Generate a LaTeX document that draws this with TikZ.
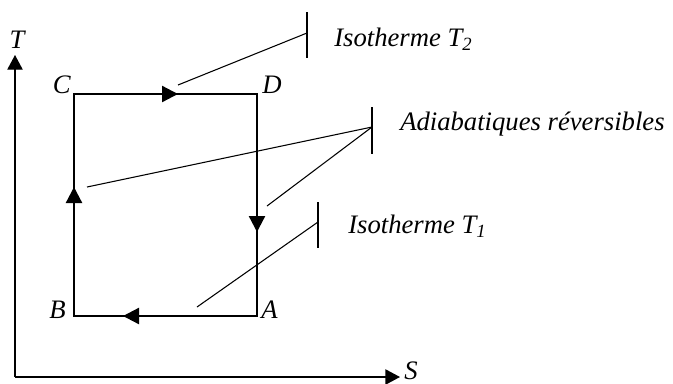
\documentclass[tikz,border=0pt]{standalone}
\usepackage{fontspec}
\setmainfont{Liberation Serif}
\usetikzlibrary{calc,arrows.meta}
\tikzset{
    axis line/.style={line width=1pt, -{Triangle[length=11pt,width=11.5pt]}},
    cycle line/.style={line width=0.9pt},
    flow arrow/.style={line width=1.7pt, -{Triangle[length=12pt,width=12pt]}},
    leader line/.style={line width=0.8pt},
    tick line/.style={line width=0.9pt},
    label text/.style={font=\fontsize{20}{24}\selectfont\itshape, inner sep=0pt}
}
\begin{document}
\begin{tikzpicture}[x=0.75pt,y=-0.75pt]
    \useasboundingbox (0,0) rectangle (673,383);
    % axes
    \coordinate(O)at(15,377);
    \coordinate(Ttip)at(15,55);
    \coordinate(Stip)at(400,377);
    \draw[axis line](O)--(Ttip);
    \draw[axis line](O)--(Stip);
    \node[label text,anchor=base](Tlab)at(17,48){T};
    \node[label text,anchor=base west,text depth=0pt](Slab)at(404,379){S};
    % cycle
    \coordinate(A)at(257,316);
    \coordinate(B)at(74,316);
    \coordinate(C)at(74,94);
    \coordinate(D)at(257,94);
    \draw[cycle line](A)--(B)--(C)--(D)--cycle;
    \draw[flow arrow]($(C)+(61,0)$)--($(C)+(104,0)$);
    \draw[flow arrow]($(D)+(0,93)$)--($(D)+(0,138)$);
    \draw[flow arrow]($(A)+(-71,0)$)--($(A)+(-134,0)$);
    \draw[flow arrow]($(B)+(0,-64)$)--($(B)+(0,-129)$);
    \node[label text,anchor=base east](Clab)at(71,93){C};
    \node[label text,anchor=base west](Dlab)at(262,93){D};
    \node[label text,anchor=base east](Blab)at(66,318){B};
    \node[label text,anchor=base west](Alab)at(261,318){A};
    % leaders
    \coordinate(hot)at(307,33);
    \draw[tick line]($(hot)+(0,-21)$)--($(hot)+(0,25)$);
    \draw[leader line](hot)--(178,85);
    \node[label text,anchor=base west](hotlab)at(334,46){Isotherme T\textsubscript{2}};
    \coordinate(adia)at(372,127);
    \draw[tick line]($(adia)+(0,-20)$)--($(adia)+(0,27)$);
    \draw[leader line](adia)--(87,187);
    \draw[leader line](adia)--(267,206);
    \node[label text,anchor=base west](adialab)at(400,130){Adiabatiques réversibles};
    \coordinate(cold)at(318,222);
    \draw[tick line]($(cold)+(0,-20)$)--($(cold)+(0,26)$);
    \draw[leader line](cold)--(197,307);
    \node[label text,anchor=base west](coldlab)at(348,233){Isotherme T\textsubscript{1}};
\end{tikzpicture}
\end{document}
